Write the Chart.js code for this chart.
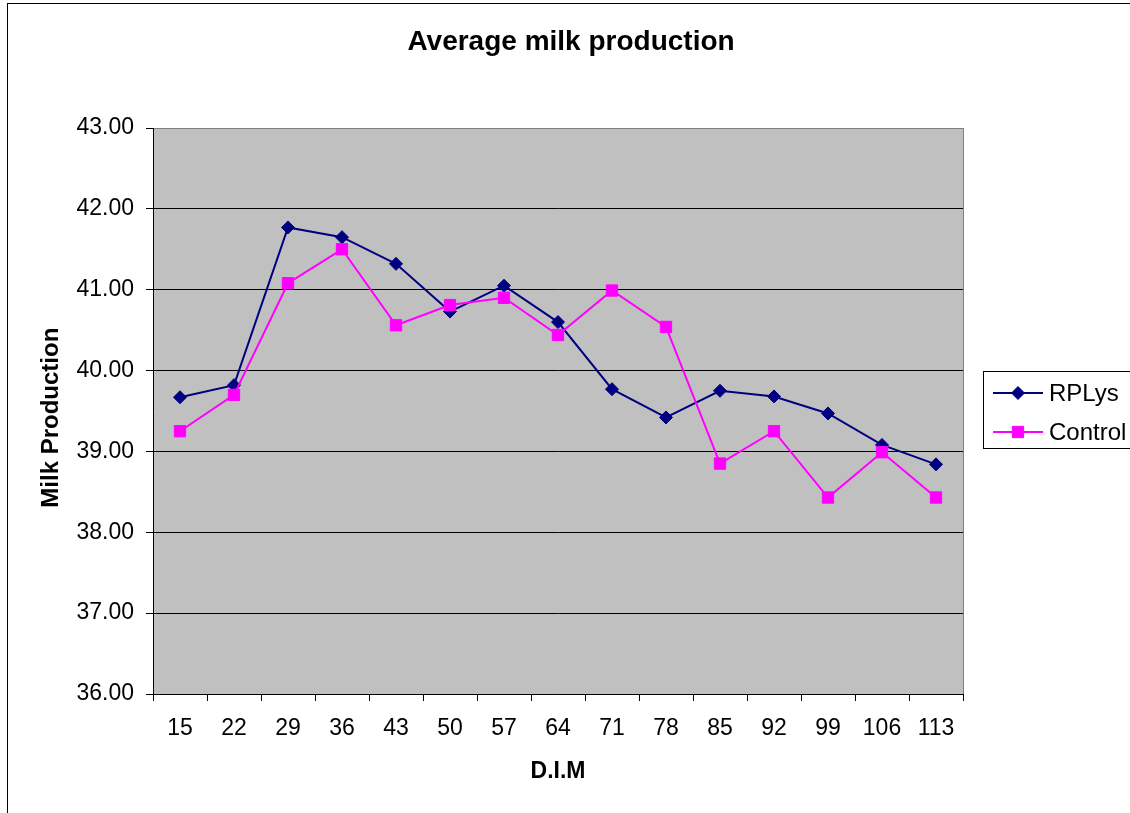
<!DOCTYPE html>
<html>
<head>
<meta charset="utf-8">
<title>Average milk production</title>
<script src="https://cdn.jsdelivr.net/npm/chart.js@4.4.1/dist/chart.umd.min.js"></script>
<style>
  body { margin: 0; background: #fff; }
  canvas { display: block; }
</style>
</head>
<body>
<canvas id="myChart" width="1130" height="813"></canvas>
<script>
// days in milk
const dimLabels = ['15', '22', '29', '36', '43', '50', '57', '64', '71', '78', '85', '92', '99', '106', '113'];
const rplys = [39.67, 39.82, 41.77, 41.65, 41.32, 40.73, 41.05, 40.60, 39.77, 39.42, 39.75, 39.68, 39.47, 39.08, 38.84];
const control = [39.25, 39.70, 41.08, 41.50, 40.56, 40.81, 40.90, 40.44, 40.99, 40.54, 38.85, 39.25, 38.43, 38.99, 38.43];

const yMin = 36;
const yMax = 43;

const font = '"Liberation Sans", Arial, sans-serif';
Chart.defaults.font.family = font;
Chart.defaults.color = '#000';

// grey plot area + outer frame
const backdrop = {
    id: 'backdrop',
    afterLayout(chart) {
        // title is centred on the whole frame, not just the plot + axis
        chart.titleBlock.left = 12;
        chart.titleBlock.right = chart.width;
    },
    beforeDraw(chart) {
        const ctx = chart.ctx;
        const a = chart.chartArea;
        ctx.save();
        ctx.fillStyle = '#fff';
        ctx.fillRect(0, 0, chart.width, chart.height);
        ctx.strokeStyle = '#000';
        ctx.lineWidth = 1;
        ctx.strokeRect(7.5, 3.5, chart.width + 20, chart.height + 20);
        ctx.fillStyle = '#c0c0c0';
        ctx.fillRect(a.left, a.top, a.right - a.left, a.bottom - a.top);
        ctx.strokeStyle = '#808080';
        ctx.strokeRect(a.left + 0.5, a.top + 0.5, a.right - a.left, a.bottom - a.top);
        ctx.restore();
    }
};

// excel style legend with a box round it
const boxLegend = {
    id: 'boxLegend',
    afterDraw(chart, args, opts) {
        const ctx = chart.ctx;
        ctx.save();
        ctx.strokeStyle = '#000';
        ctx.lineWidth = 1;
        ctx.strokeRect(opts.x + 0.5, opts.y + 0.5, opts.w, opts.h);
        chart.data.datasets.forEach((ds, i) => {
            const y = opts.y + opts.firstRow + i * opts.rowGap;
            ctx.strokeStyle = ds.borderColor;
            ctx.lineWidth = ds.borderWidth;
            ctx.beginPath();
            ctx.moveTo(opts.x + 10, y);
            ctx.lineTo(opts.x + 60, y);
            ctx.stroke();
            ctx.fillStyle = ds.backgroundColor;
            ctx.strokeStyle = ds.borderColor;
            ctx.lineWidth = 1;
            Chart.helpers.drawPoint(ctx, { pointStyle: ds.pointStyle, radius: ds.pointRadius, borderWidth: 1 }, opts.x + 35, y);
            ctx.fillStyle = '#000';
            ctx.font = '24px ' + font;
            ctx.textBaseline = 'middle';
            ctx.textAlign = 'left';
            ctx.fillText(ds.label, opts.x + 66, y + 1);
        });
        ctx.restore();
    }
};

const ctx = document.getElementById('myChart').getContext('2d');
const milkChart = new Chart(ctx, {
    type: 'line',
    data: {
        labels: dimLabels,
        datasets: [{
            label: 'RPLys',
            data: rplys,
            borderColor: '#000080',
            backgroundColor: '#000080',
            borderWidth: 2,
            pointStyle: 'rectRot',
            pointRadius: 6.5,
            pointBorderWidth: 1,
            tension: 0,
            order: 1
        }, {
            label: 'Control',
            data: control,
            borderColor: '#ff00ff',
            backgroundColor: '#ff00ff',
            borderWidth: 2,
            pointStyle: 'rect',
            pointRadius: 8,
            pointBorderWidth: 1,
            tension: 0,
            order: 0
        }]
    },
    options: {
        responsive: false,
        animation: false,
        events: [],
        layout: { padding: { left: 0, right: 167, top: 0, bottom: 0 } },
        plugins: {
            legend: { display: false },
            tooltip: { enabled: false },
            title: {
                display: true,
                text: 'Average milk production',
                color: '#000',
                font: { size: 28, weight: 'bold' },
                padding: { top: 25, bottom: 69.4 }
            },
            boxLegend: { x: 983, y: 371, w: 200, h: 77, firstRow: 22, rowGap: 39 }
        },
        scales: {
            x: {
                type: 'category',
                offset: true,
                afterFit(scale) { scale.height = 119; },
                grid: {
                    offset: true,
                    drawOnChartArea: false,
                    drawTicks: true,
                    tickLength: 7,
                    tickColor: '#000'
                },
                border: { display: true, color: '#000', width: 1 },
                ticks: { font: { size: 23 }, padding: 14, maxRotation: 0, autoSkip: false },
                title: {
                    display: true,
                    text: 'D.I.M',
                    font: { size: 23, weight: 'bold' },
                    padding: { top: 0, bottom: 27.2 }
                }
            },
            y: {
                min: yMin,
                max: yMax,
                afterFit(scale) { scale.width = 153; },
                grid: {
                    color: (c) => (c.tick && c.tick.value === yMax ? '#808080' : '#000'),
                    tickLength: 7,
                    tickColor: '#000'
                },
                border: { display: true, color: '#000', width: 1 },
                ticks: {
                    stepSize: 1,
                    font: { size: 23 },
                    padding: 12,
                    callback: (v) => Number(v).toFixed(2)
                },
                title: {
                    display: true,
                    // trailing spaces nudge it a little lower, like the original
                    text: 'Milk Production  ',
                    font: { size: 24, weight: 'bold' },
                    padding: { top: 36.6, bottom: 0 }
                }
            }
        }
    },
    plugins: [backdrop, boxLegend]
});
</script>
</body>
</html>
